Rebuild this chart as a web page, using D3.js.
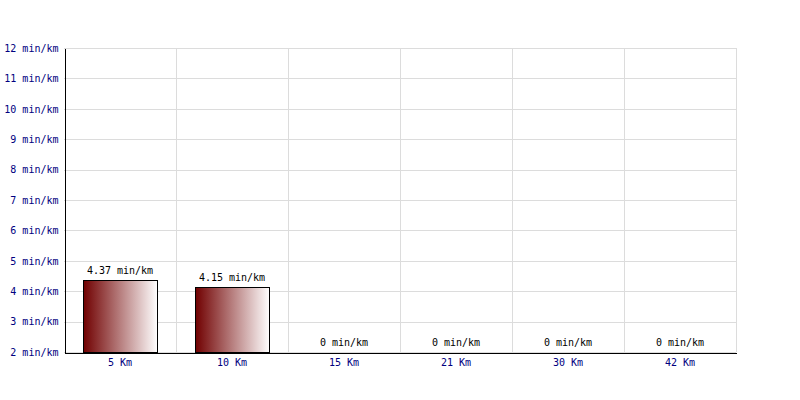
<!DOCTYPE html>
<html><head><meta charset="utf-8">
<script src="https://cdn.jsdelivr.net/npm/d3@7"></script>
<style>body{margin:0;background:#fff}svg{display:block}</style>
</head><body>
<script>
const categories = ["5 Km","10 Km","15 Km","21 Km","30 Km","42 Km"];
const values = [4.37, 4.15, 0, 0, 0, 0];
const yTicks = [2,3,4,5,6,7,8,9,10,11,12];
const unit = " min/km";

const W = 800, H = 400;
const m = {left:64, right:64, top:48, bottom:48};
const svg = d3.select("body").append("svg").attr("width",W).attr("height",H);
const defs = svg.append("defs");
const g1 = defs.append("linearGradient").attr("id","grad").attr("x1","0%").attr("x2","100%").attr("y1","0%").attr("y2","0%");
g1.append("stop").attr("offset","0%").attr("stop-color","#700000");
g1.append("stop").attr("offset","100%").attr("stop-color","#ffffff");

const x = d3.scaleBand().domain(categories).range([m.left, W-m.right]).paddingInner(0).paddingOuter(0);
const y = d3.scaleLinear().domain([2,12]).range([H-m.bottom, m.top]);
const font = "'DejaVu Sans Mono', monospace";
const fs = 10;

// horizontal grid
svg.append("g").selectAll("line").data(yTicks).join("line")
  .attr("x1", m.left).attr("x2", W-m.right)
  .attr("y1", d=>Math.round(y(d))+0.5).attr("y2", d=>Math.round(y(d))+0.5)
  .attr("stroke","#dcdcdc");
// vertical grid
svg.append("g").selectAll("line").data(categories).join("line")
  .attr("x1", d=>x(d)+x.bandwidth()+0.5).attr("x2", d=>x(d)+x.bandwidth()+0.5)
  .attr("y1", m.top).attr("y2", H-m.bottom)
  .attr("stroke","#dcdcdc");

// bars
const bw = x.bandwidth()*0.66;
svg.append("g").selectAll("rect").data(values.map((v,i)=>({c:categories[i],v}))).join("rect")
  .filter(d=>d.v>2)
  .attr("x", d=>Math.round(x(d.c)+(x.bandwidth()-bw)/2)+0.5)
  .attr("width", Math.round(bw))
  .attr("y", d=>Math.round(y(d.v))+0.5)
  .attr("height", d=>Math.round(y(2))-Math.round(y(d.v)))
  .attr("fill","url(#grad)").attr("stroke","#000");

// value labels
svg.append("g").selectAll("text").data(values.map((v,i)=>({c:categories[i],v}))).join("text")
  .attr("x", d=>x(d.c)+x.bandwidth()/2)
  .attr("y", d=>y(Math.max(d.v,2))-6)
  .attr("text-anchor","middle")
  .attr("font-family",font).attr("font-size",fs).attr("fill","#000")
  .text(d=>d.v+unit);

// axes
const yAxis = d3.axisLeft(y).tickValues(yTicks).tickSize(0).tickPadding(6).tickFormat(d=>d+unit);
const ya = svg.append("g").attr("transform",`translate(${m.left+0.5},0)`).call(yAxis);
ya.select(".domain").attr("stroke","#000").attr("stroke-width",1).attr("shape-rendering","crispEdges");
ya.selectAll("text").attr("font-family",font).attr("font-size",fs).attr("fill","#000080");

const xAxis = d3.axisBottom(x).tickSize(0).tickPadding(6);
const xa = svg.append("g").attr("transform",`translate(0,${H-m.bottom+0.5})`).call(xAxis);
xa.select(".domain").attr("stroke","#000").attr("stroke-width",1).attr("shape-rendering","crispEdges");
xa.selectAll("text").attr("font-family",font).attr("font-size",fs).attr("fill","#000080");
</script>
</body></html>
